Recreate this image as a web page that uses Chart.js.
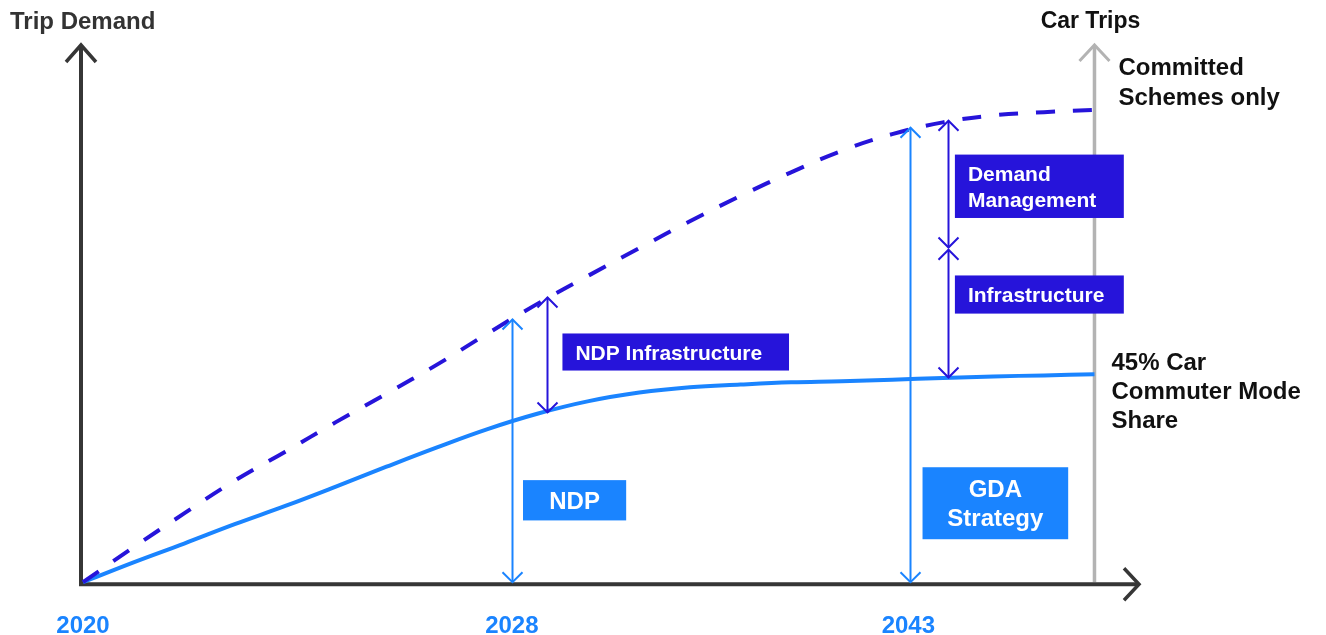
<!DOCTYPE html>
<html>
<head>
<meta charset="utf-8">
<script src="https://cdn.jsdelivr.net/npm/chart.js@4.4.1/dist/chart.umd.min.js"></script>
<style>
    html, body { margin: 0; padding: 0; background: #fff; }
    #wrap { width: 1326px; height: 635px; }
</style>
</head>
<body>
<div id="wrap"><canvas id="chart" width="1326" height="635"></canvas></div>
<script>
// x is a relative timeline (0 = 2020, 100 = end of plan), y is relative trip demand
const YEAR_LABELS = ['2020', '2028', '2043'];
const YEAR_POS    = [0, 42.4, 81.6];

const X_POS     = [0, 5, 10, 15, 20, 25, 30, 35, 40, 45, 50, 55, 60, 65, 70, 75, 80, 85, 90, 95, 100];
const COMMITTED = [0, 6.5, 12.8, 18.9, 24.3, 29.8, 35.1, 40.5, 46.3, 51.9, 57.1, 62.2, 67.2, 71.9, 76.3, 80.3, 83.4, 85.6, 86.9, 87.5, 87.9];
const CAR_TRIPS = [0, 3.7, 7.2, 10.8, 14.2, 17.8, 21.5, 25.1, 28.5, 31.4, 33.7, 35.3, 36.3, 36.8, 37.2, 37.4, 37.7, 38.0, 38.3, 38.5, 38.7];

// gap arrows: NDP, NDP Infrastructure, GDA Strategy, Demand Management, Infrastructure
const ARROW_X    = [42.4, 45.9, 81.8, 85.5, 85.5];
const ARROW_FROM = [0, 31.6, 0, 62.3, 38.1];
const ARROW_TO   = [48.9, 53.0, 84.6, 85.9, 61.9];
const ARROW_DARK = [false, true, false, true, true];

const CAR_TRIPS_LINE_X = 100;

const COLORS = {
    light: '#1a84ff',
    dark:  '#2614da',
    axis:  '#363636',
    grey:  '#b3b3b3',
    text:  '#111111',
};

const FONT = "'Liberation Sans', Arial, sans-serif";

const BOXES = [
    { lines: ['NDP Infrastructure'],      x1: 47.4, x2: 69.8,  y1: 46.3, y2: 39.4, dark: true,  align: 'left',   size: 21 },
    { lines: ['NDP'],                     x1: 43.5, x2: 53.7,  y1: 19.0, y2: 11.5, dark: false, align: 'center', size: 24 },
    { lines: ['Demand', 'Management'],    x1: 86.2, x2: 102.9, y1: 79.6, y2: 67.8, dark: true,  align: 'left',   size: 21 },
    { lines: ['Infrastructure'],          x1: 86.2, x2: 102.9, y1: 57.1, y2: 50.0, dark: true,  align: 'left',   size: 21 },
    { lines: ['GDA', 'Strategy'],         x1: 83.0, x2: 97.4,  y1: 21.4, y2: 8.0,  dark: false, align: 'center', size: 24 },
];

function chevron(ctx, x, y, dx, dy) {
    ctx.beginPath();
    ctx.moveTo(x - dx, y + dy);
    ctx.lineTo(x, y);
    ctx.lineTo(x + dx, y + dy);
    ctx.stroke();
}

const diagram = {
    id: 'diagram',
    beforeDatasetsDraw(chart) {
        const { ctx, chartArea: a, scales: { x, y } } = chart;
        const x0 = x.getPixelForValue(0), y0 = y.getPixelForValue(0);
        ctx.save();
        ctx.lineCap = 'butt';

        // car trips marker line
        const gx = x.getPixelForValue(CAR_TRIPS_LINE_X);
        ctx.strokeStyle = COLORS.grey;
        ctx.lineWidth = 3.5;
        ctx.beginPath();
        ctx.moveTo(gx, y0);
        ctx.lineTo(gx, a.top + 1);
        ctx.stroke();
        ctx.lineWidth = 3;
        chevron(ctx, gx, a.top, 15, 16);

        // axes
        ctx.strokeStyle = COLORS.axis;
        ctx.lineWidth = 4;
        ctx.beginPath();
        ctx.moveTo(x0 - 2, a.top + 1);
        ctx.lineTo(x0 - 2, y0 + 2);
        ctx.lineTo(a.right - 2, y0 + 2);
        ctx.stroke();
        ctx.lineWidth = 3.5;
        chevron(ctx, x0 - 2, a.top, 15, 17);
        ctx.beginPath();
        ctx.moveTo(a.right - 16, y0 - 14);
        ctx.lineTo(a.right - 1, y0 + 2);
        ctx.lineTo(a.right - 16, y0 + 18);
        ctx.stroke();
        ctx.restore();
    },
    afterDatasetsDraw(chart) {
        const { ctx, scales: { x, y } } = chart;
        ctx.save();

        // double-headed gap arrows
        ARROW_X.forEach((v, i) => {
            const px = Math.round(x.getPixelForValue(v)) + 0.5;
            const top = y.getPixelForValue(ARROW_TO[i]);
            const bot = y.getPixelForValue(ARROW_FROM[i]);
            ctx.strokeStyle = ARROW_DARK[i] ? COLORS.dark : COLORS.light;
            ctx.lineWidth = 2;
            ctx.beginPath();
            ctx.moveTo(px, top);
            ctx.lineTo(px, bot);
            ctx.stroke();
            chevron(ctx, px, top, 10, 10);
            chevron(ctx, px, bot, 10, -10);
        });

        // label boxes
        BOXES.forEach(b => {
            const l = x.getPixelForValue(b.x1), r = x.getPixelForValue(b.x2);
            const t = y.getPixelForValue(b.y1), bt = y.getPixelForValue(b.y2);
            ctx.fillStyle = b.dark ? COLORS.dark : COLORS.light;
            ctx.fillRect(l, t, r - l, bt - t);
            ctx.fillStyle = '#ffffff';
            ctx.font = `bold ${b.size}px ${FONT}`;
            ctx.textBaseline = 'middle';
            ctx.textAlign = b.align;
            const lh = b.size * 1.22;
            const cy = (t + bt) / 2 - (b.lines.length - 1) * lh / 2;
            const tx = b.align === 'left' ? l + 13 : (l + r) / 2;
            b.lines.forEach((s, k) => ctx.fillText(s, tx, cy + k * lh + 2));
        });

        // titles and end labels
        const gx = x.getPixelForValue(CAR_TRIPS_LINE_X);
        ctx.textBaseline = 'middle';
        ctx.font = `bold 24px ${FONT}`;
        ctx.fillStyle = '#333333';
        ctx.textAlign = 'left';
        ctx.fillText('Trip Demand', 10, 22);
        ctx.font = `bold 23px ${FONT}`;
        ctx.fillStyle = COLORS.text;
        ctx.textAlign = 'center';
        ctx.fillText('Car Trips', gx - 4, 22);

        ctx.font = `bold 24px ${FONT}`;
        ctx.textAlign = 'left';
        const ct = y.getPixelForValue(COMMITTED[COMMITTED.length - 1]);
        ['Committed', 'Schemes only'].forEach((s, k) => ctx.fillText(s, gx + 24, ct - 42 + k * 30));
        const cr = y.getPixelForValue(CAR_TRIPS[CAR_TRIPS.length - 1]);
        ['45% Car', 'Commuter Mode', 'Share'].forEach((s, k) => ctx.fillText(s, gx + 17, cr - 11 + k * 29));
        ctx.restore();
    },
};

new Chart(document.getElementById('chart'), {
    type: 'line',
    data: {
        datasets: [
            {
                label: 'Committed Schemes only',
                data: X_POS.map((v, i) => ({ x: v, y: COMMITTED[i] })),
                borderColor: COLORS.dark,
                borderWidth: 4,
                borderDash: [19, 18],
                pointRadius: 0,
                tension: 0.4,
                clip: false,
            },
            {
                label: '45% Car Commuter Mode Share',
                data: X_POS.map((v, i) => ({ x: v, y: CAR_TRIPS[i] })),
                borderColor: COLORS.light,
                borderWidth: 4,
                pointRadius: 0,
                tension: 0.4,
                clip: false,
            },
        ],
    },
    options: {
        responsive: false,
        animation: false,
        devicePixelRatio: 1,
        layout: { padding: { left: 83, right: 186, top: 45, bottom: -36 } },
        plugins: { legend: { display: false }, tooltip: { enabled: false } },
        scales: {
            x: {
                type: 'linear',
                min: 0,
                max: 104.5,
                grid: { display: false, drawTicks: false },
                border: { display: false },
                afterBuildTicks: s => { s.ticks = YEAR_POS.map(v => ({ value: v })); },
                ticks: {
                    autoSkip: false,
                    maxRotation: 0,
                    padding: 30,
                    color: COLORS.light,
                    font: { family: FONT, size: 24, weight: 'bold' },
                    callback: v => YEAR_LABELS[YEAR_POS.indexOf(v)],
                },
            },
            y: { display: false, min: 0, max: 100 },
        },
    },
    plugins: [diagram],
});
</script>
</body>
</html>
